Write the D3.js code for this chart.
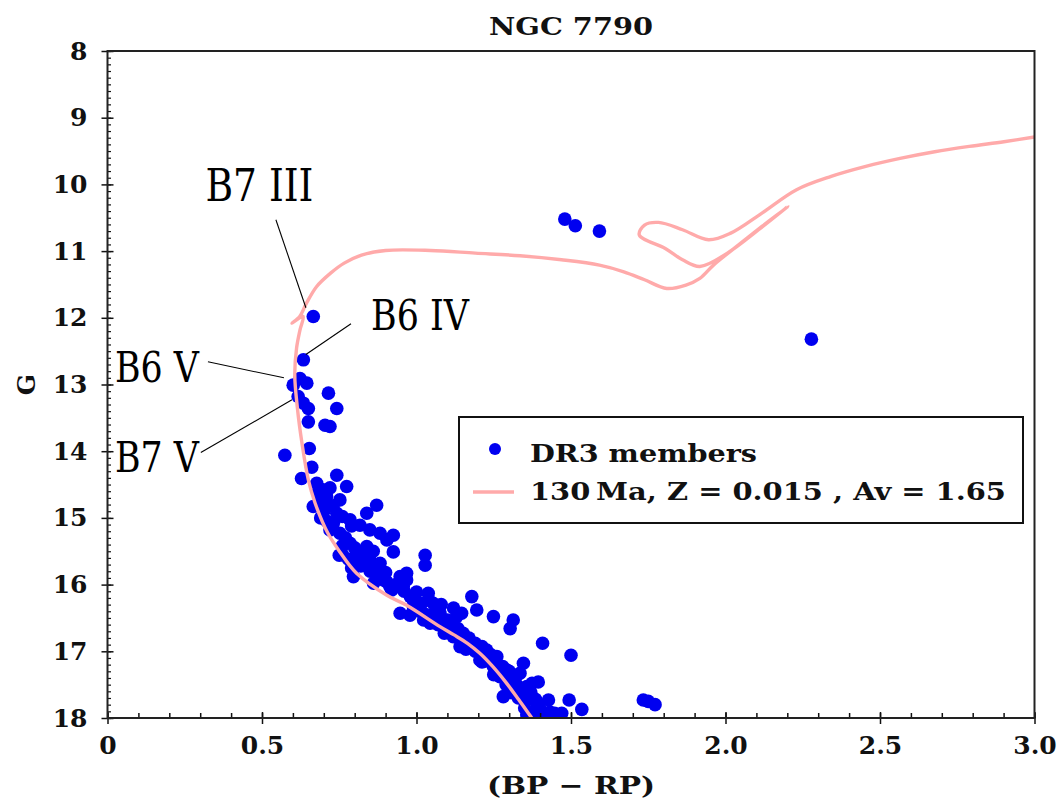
<!DOCTYPE html>
<html>
<head>
<meta charset="utf-8">
<script src="https://cdn.jsdelivr.net/npm/d3@7"></script>
<style>
  html, body { margin: 0; padding: 0; background: #fff; }
  svg { display: block; }
</style>
</head>
<body>
<svg id="chart" width="1062" height="803"></svg>
<script>
// Gaia DR3 cluster members: colour index (BP - RP) and G magnitude
const memberBpRp = [
  1.48, 1.514, 1.592, 2.278, 0.666, 0.634, 0.623, 0.645, 0.601, 0.617,
  0.634, 0.650, 0.650, 0.715, 0.742, 0.704, 0.720, 0.574, 0.653, 0.661,
  0.628, 0.677, 0.742, 0.774, 0.698, 0.709, 0.752, 0.698, 0.666, 0.871,
  0.839, 0.742, 0.731, 0.785, 0.817, 0.849, 0.882, 0.925, 0.904, 0.752,
  0.785, 0.806, 0.839, 0.849, 0.925, 0.882, 0.796, 0.871, 0.893, 0.861,
  0.947, 0.968, 1.028, 1.028, 1.000, 0.914, 1.038, 0.904, 0.957, 0.968,
  1.017, 1.054, 1.040, 0.990, 1.062, 0.947, 0.979, 1.023, 1.044, 1.076,
  1.098, 1.100, 1.130, 1.146, 1.090, 1.134, 1.119, 1.151, 1.141, 1.179,
  1.195, 1.249, 1.313, 1.303, 1.190, 1.212, 1.227, 1.235, 1.205, 1.212,
  1.260, 1.279, 1.292, 1.249, 1.346, 1.335, 1.281, 1.324, 1.329, 1.357,
  1.374, 1.357, 1.357, 1.408, 1.500, 1.394, 1.427, 1.494, 1.535, 1.470,
  1.432, 1.447, 1.378, 1.734, 1.750, 1.772, 0.750, 0.690, 0.720, 0.760,
  0.780, 0.820, 0.850, 0.930, 0.980, 1.060, 1.170, 1.190, 1.270, 1.300,
  1.310, 0.790, 0.860, 0.700, 1.080, 1.120, 1.250, 0.680, 0.720, 0.730,
  0.760, 0.770, 0.800, 0.830, 0.870, 0.900, 0.940, 0.960, 1.010, 1.030,
  1.070, 1.110, 1.150, 1.180, 1.220, 1.240, 1.290, 1.320, 1.330, 1.370,
  1.390, 1.410, 1.350, 0.810, 0.690, 0.710, 0.760, 0.790, 0.880, 0.920,
  0.990, 1.050, 1.130, 1.160, 1.260, 1.300, 1.340, 1.385, 1.400, 1.365
];
const memberG = [
  10.52, 10.62, 10.70, 12.32, 11.98, 12.63, 12.91, 12.98, 13.01, 13.18,
  13.28, 13.36, 13.56, 13.13, 13.36, 13.61, 13.63, 14.06, 13.96, 14.24,
  14.41, 14.48, 14.36, 14.53, 14.58, 14.68, 14.73, 14.78, 14.83, 14.81,
  14.93, 14.93, 15.08, 15.03, 15.11, 15.18, 15.23, 15.26, 15.33, 15.23,
  15.38, 15.53, 15.43, 15.63, 15.51, 15.68, 15.88, 15.86, 15.93, 15.98,
  15.88, 15.83, 15.56, 15.71, 16.11, 16.03, 16.13, 15.96, 16.03, 15.93,
  16.28, 16.28, 16.23, 16.23, 16.38, 16.43, 16.46, 16.53, 16.58, 16.43,
  16.63, 16.53, 16.48, 16.43, 16.73, 16.66, 16.78, 16.73, 16.93, 16.18,
  16.38, 16.48, 16.53, 16.66, 16.88, 16.93, 16.98, 17.08, 17.13, 17.16,
  17.08, 17.23, 17.28, 17.23, 17.18, 17.33, 17.68, 17.58, 17.53, 17.53,
  17.48, 17.73, 17.95, 16.88, 17.06, 17.46, 17.73, 17.73, 17.87, 17.93,
  17.91, 17.93, 17.93, 17.73, 17.75, 17.80, 15.56, 15.00, 15.18, 15.42,
  15.62, 15.72, 15.80, 16.02, 16.18, 16.50, 16.80, 17.00, 17.38, 17.45,
  17.62, 15.12, 15.50, 14.90, 16.30, 16.35, 17.35, 14.62, 14.55, 14.82,
  14.98, 15.30, 15.45, 15.58, 15.74, 15.82, 15.98, 16.10, 16.40, 16.45,
  16.60, 16.62, 16.85, 16.90, 17.15, 17.05, 17.50, 17.40, 17.70, 17.62,
  17.80, 17.95, 17.85, 15.70, 14.70, 15.05, 15.55, 15.75, 15.90, 16.08,
  16.33, 16.52, 16.72, 16.97, 17.20, 17.30, 17.62, 17.72, 17.87, 17.98
];

// Isochrone: 130 Ma, Z = 0.015, Av = 1.65
const isoBpRp = [
  1.420, 1.373, 1.330, 1.290, 1.245, 1.205, 1.165, 1.120, 1.076, 0.968,
  0.904, 0.806, 0.752, 0.712, 0.672, 0.650, 0.630, 0.614, 0.606, 0.612,
  0.623, 0.633, 0.597, 0.622, 0.644, 0.677, 0.722, 0.766, 0.822, 0.900,
  1.045, 1.190, 1.335, 1.469, 1.592, 1.671, 1.738, 1.810, 1.872, 1.917,
  1.961, 2.028, 2.118, 2.202, 2.107, 2.006, 1.917, 1.861, 1.805, 1.721,
  1.738, 1.783, 1.861, 1.945, 2.017, 2.118, 2.230, 2.342, 2.454, 2.565,
  2.677, 2.789, 2.901, 3.000
];
const isoG = [
  18.30, 18.00, 17.72, 17.47, 17.22, 17.03, 16.88, 16.75, 16.63, 16.31,
  16.16, 15.83, 15.51, 15.22, 14.78, 14.43, 13.90, 13.33, 12.85, 12.45,
  12.18, 11.98, 12.08, 11.98, 11.78, 11.53, 11.33, 11.18, 11.06, 10.99,
  10.99, 11.03, 11.07, 11.13, 11.21, 11.31, 11.43, 11.56, 11.51, 11.41,
  11.21, 10.96, 10.63, 10.33, 10.68, 11.03, 11.23, 11.13, 10.96, 10.76,
  10.61, 10.57, 10.68, 10.83, 10.73, 10.43, 10.08, 9.88, 9.73, 9.61,
  9.51, 9.43, 9.36, 9.29
];

// Axis ticks
const xTickValues = [0, 0.5, 1.0, 1.5, 2.0, 2.5, 3.0];
const xTickLabels = ["0", "0.5", "1.0", "1.5", "2.0", "2.5", "3.0"];
const yTickValues = [8, 9, 10, 11, 12, 13, 14, 15, 16, 17, 18];

// Spectral-type annotations: label, label anchor (colour, mag), pointer from / to (colour, mag)
const noteLabels = ["B7 III", "B6 IV", "B6 V", "B7 V"];
const noteTextX = [0.317, 0.853, 0.024, 0.024];
const noteTextG = [10.25, 12.19, 12.96, 14.31];
const noteFromX = [0.545, 0.788, 0.325, 0.302];
const noteFromG = [10.53, 12.09, 12.66, 14.02];
const noteToX = [0.642, 0.642, 0.571, 0.597];
const noteToG = [11.85, 12.55, 12.90, 13.23];

const legendLabels = ["DR3 members", "130\u2009Ma, Z = 0.015 , Av = 1.65"];

const width = 1062, height = 803;
const margin = { top: 51, right: 27.5, bottom: 85, left: 107.5 };
const serif = "'DejaVu Serif', 'Liberation Serif', serif";
const pointColor = "#0000f0";
const isoColor = "#ffaaaa";

const svg = d3.select("#chart");

const x = d3.scaleLinear().domain([0, 3]).range([margin.left, width - margin.right]);
const y = d3.scaleLinear().domain([8, 18]).range([margin.top, height - margin.bottom]);

svg.append("defs").append("clipPath").attr("id", "plot-clip")
  .append("rect")
  .attr("x", x(0)).attr("y", y(8))
  .attr("width", x(3) - x(0)).attr("height", y(18) - y(8));

const plot = svg.append("g").attr("clip-path", "url(#plot-clip)");

// Members
const members = memberBpRp.map((c, i) => [c, memberG[i]]);
plot.selectAll("circle.member")
  .data(members)
  .join("circle")
  .attr("class", "member")
  .attr("cx", d => x(d[0]))
  .attr("cy", d => y(d[1]))
  .attr("r", 6.8)
  .attr("fill", pointColor);

// Isochrone, drawn over the members
const isoPoints = isoBpRp.map((c, i) => [c, isoG[i]]);
plot.append("path")
  .datum(isoPoints)
  .attr("fill", "none")
  .attr("stroke", isoColor)
  .attr("stroke-width", 3.4)
  .attr("stroke-linejoin", "round")
  .attr("d", d3.line().curve(d3.curveCatmullRom.alpha(0.5)).x(d => x(d[0])).y(d => y(d[1])));

// Axes
const axisFont = g => g.selectAll("text")
  .attr("font-family", serif)
  .attr("font-weight", "bold")
  .attr("font-size", 25)
  .attr("fill", "#111");

// x minor ticks (every 0.1)
svg.append("g")
  .attr("transform", `translate(0,${y(18)})`)
  .call(d3.axisBottom(x).tickValues(d3.range(0, 3.0001, 0.1)).tickSize(-5).tickFormat(""))
  .call(g => g.select(".domain").remove())
  .call(g => g.selectAll("line").attr("stroke", "#111").attr("stroke-width", 1.5));

// x major ticks
svg.append("g")
  .attr("transform", `translate(0,${y(18)})`)
  .call(d3.axisBottom(x).tickValues(xTickValues).tickSizeOuter(0)
    .tickFormat((d, i) => xTickLabels[i]))
  .call(g => g.select(".domain").remove())
  .call(g => g.selectAll("line").attr("y1", -6).attr("y2", 6).attr("stroke", "#111").attr("stroke-width", 1.5))
  .call(g => g.selectAll("text").attr("y", 18).attr("dy", "0.71em"))
  .call(axisFont);

// y minor ticks (every 0.1 mag)
svg.append("g")
  .attr("transform", `translate(${x(0)},0)`)
  .call(d3.axisLeft(y).tickValues(d3.range(8, 18.0001, 0.1)).tickSize(-3.5).tickFormat(""))
  .call(g => g.select(".domain").remove())
  .call(g => g.selectAll("line").attr("stroke", "#111").attr("stroke-width", 1.2));

// y major ticks
svg.append("g")
  .attr("transform", `translate(${x(0)},0)`)
  .call(d3.axisLeft(y).tickValues(yTickValues).tickSizeOuter(0).tickFormat(d3.format("d")))
  .call(g => g.select(".domain").remove())
  .call(g => g.selectAll("line").attr("x1", -6).attr("x2", 6).attr("stroke", "#111").attr("stroke-width", 1.5))
  .call(g => g.selectAll("text").attr("x", -20))
  .call(axisFont);

// Frame
svg.append("rect")
  .attr("x", x(0)).attr("y", y(8))
  .attr("width", x(3) - x(0)).attr("height", y(18) - y(8))
  .attr("fill", "none").attr("stroke", "#222").attr("stroke-width", 2);

// Title and axis titles
svg.append("text")
  .attr("x", (x(0) + x(3)) / 2).attr("y", 35)
  .attr("text-anchor", "middle")
  .attr("font-family", serif).attr("font-weight", "bold").attr("font-size", 25)
  .attr("textLength", 164).attr("lengthAdjust", "spacingAndGlyphs")
  .attr("fill", "#111")
  .text("NGC 7790");

svg.append("text")
  .attr("x", (x(0) + x(3)) / 2).attr("y", 794)
  .attr("text-anchor", "middle")
  .attr("font-family", serif).attr("font-weight", "bold").attr("font-size", 25)
  .attr("textLength", 168).attr("lengthAdjust", "spacingAndGlyphs")
  .attr("fill", "#111")
  .text("(BP \u2212 RP)");

svg.append("text")
  .attr("transform", `translate(35,${y(13)}) rotate(-90)`)
  .attr("text-anchor", "middle")
  .attr("font-family", serif).attr("font-weight", "bold").attr("font-size", 25)
  .attr("fill", "#111")
  .text("G");

// Spectral-type annotations
const notes = noteLabels.map((t, i) => ({
  t, tx: noteTextX[i], tg: noteTextG[i],
  fx: noteFromX[i], fg: noteFromG[i], ex: noteToX[i], eg: noteToG[i]
}));
const noteWidths = [108, 98, 84, 84];
const noteG = svg.append("g");
noteG.selectAll("line")
  .data(notes)
  .join("line")
  .attr("x1", d => x(d.fx)).attr("y1", d => y(d.fg))
  .attr("x2", d => x(d.ex)).attr("y2", d => y(d.eg))
  .attr("stroke", "#000").attr("stroke-width", 1.1);
noteG.selectAll("text")
  .data(notes)
  .join("text")
  .attr("x", d => x(d.tx)).attr("y", d => y(d.tg))
  .attr("font-family", serif).attr("font-size", (d, i) => i === 0 ? 45 : 42)
  .attr("textLength", (d, i) => noteWidths[i]).attr("lengthAdjust", "spacingAndGlyphs")
  .attr("fill", "#000")
  .text(d => d.t);

// Legend
const lg = svg.append("g");
lg.append("rect")
  .attr("x", 459).attr("y", 417).attr("width", 564).attr("height", 106)
  .attr("fill", "#fff").attr("stroke", "#111").attr("stroke-width", 2);
lg.append("circle")
  .attr("cx", 495).attr("cy", 449).attr("r", 6)
  .attr("fill", pointColor);
lg.append("line")
  .attr("x1", 473).attr("x2", 514).attr("y1", 492).attr("y2", 492)
  .attr("stroke", isoColor).attr("stroke-width", 3.5);
const legendWidths = [227, 476];
lg.selectAll("text.lbl")
  .data(legendLabels)
  .join("text")
  .attr("class", "lbl")
  .attr("x", 530).attr("y", (d, i) => 462 + i * 38)
  .attr("font-family", serif).attr("font-weight", "bold").attr("font-size", 24)
  .attr("textLength", (d, i) => legendWidths[i]).attr("lengthAdjust", "spacingAndGlyphs")
  .attr("fill", "#111")
  .text(d => d);
</script>
</body>
</html>
